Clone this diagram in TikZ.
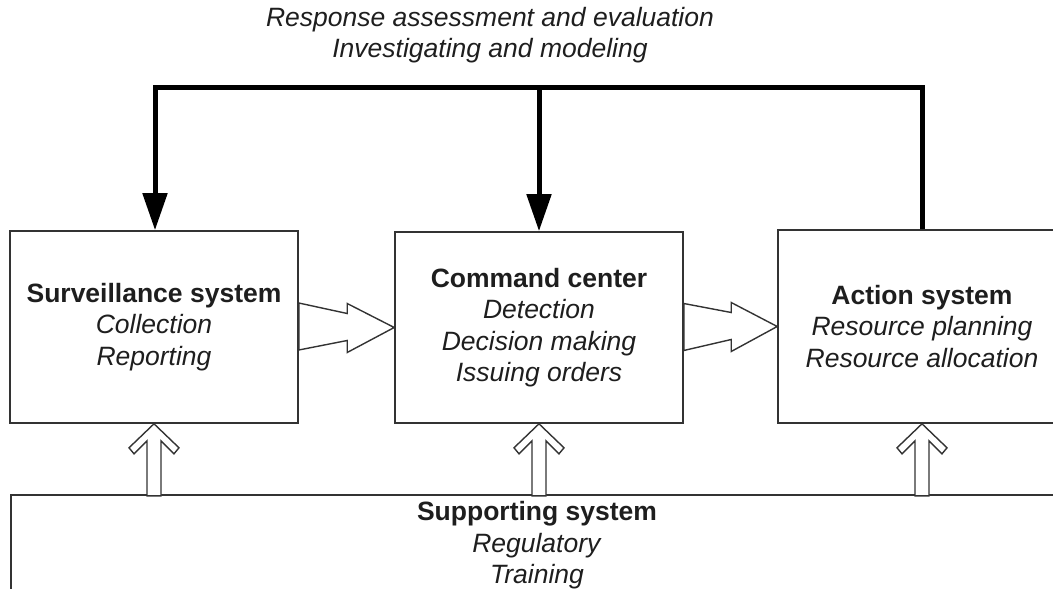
\documentclass[tikz,border=0pt]{standalone}
\usepackage{fontspec}
\setmainfont{Liberation Sans}
\usetikzlibrary{arrows.meta,calc}
\definecolor{boxline}{HTML}{333333}
\definecolor{txt}{HTML}{1E1E1E}
\newcommand\hollowup[1]{\draw[hollow] (#1) -- ++(-25,24) -- ++(5,6) -- ++(13,-13) -- ++(0,55) -- ++(14,0) -- ++(0,-55) -- ++(13,13) -- ++(5,-6) -- cycle;}
\begin{document}
\begin{tikzpicture}[x=1pt,y=-1pt,
  sysbox/.style={draw=boxline,line width=1.6pt,rectangle,inner sep=0pt,align=center,text=txt,font=\fontsize{26.5}{31.5}\selectfont},
  hollow/.style={draw=boxline,line width=1.4pt,fill=white,line join=miter},
  feed/.style={line width=5pt,line join=miter,draw=black},
  feedtip/.style={-{Triangle[width=24pt,length=37pt]}}]
\useasboundingbox (0,0) rectangle (1053,589);
\node[sysbox,minimum width=288pt,minimum height=192pt] (surv) at (154,327) {\textbf{Surveillance system}\\\textit{Collection}\\\textit{Reporting}};
\node[sysbox,minimum width=288pt,minimum height=191pt] (cmd) at (539,327.5) {\textbf{Command center}\\\textit{Detection}\\\textit{Decision making}\\\textit{Issuing orders}};
\node[sysbox,minimum width=288pt,minimum height=193pt] (act) at (922,326.5) {\textbf{Action system}\\\textit{Resource planning}\\\textit{Resource allocation}};
\node[sysbox,minimum width=1052pt,minimum height=101.2pt] (sup) at (537,545.6) {\textbf{Supporting system}\\\textit{Regulatory}\\\textit{Training}};
\node[font=\fontsize{26.5}{31}\selectfont\itshape,align=center,text=txt,inner sep=0pt] (top) at (490,35.6) {Response assessment and evaluation\\Investigating and modeling};
% hollow horizontal arrows
\draw[hollow] (cmd.west) -- ++(-47,-24) -- ++(0,10) -- ($(surv.east)+(0,-24)$) -- ($(surv.east)+(0,23)$) -- ($(cmd.west)+(-47,13)$) -- ++(0,12) -- cycle;
\draw[hollow] (act.west) -- ++(-46,-24) -- ++(0,10) -- ($(cmd.east)+(0,-24)$) -- ($(cmd.east)+(0,23)$) -- ($(act.west)+(-46,13)$) -- ++(0,12) -- cycle;
% hollow vertical arrows
\hollowup{surv.south}
\hollowup{cmd.south}
\hollowup{act.south}
% feedback loop
\coordinate (tl) at (155,87);
\coordinate (tr) at (922,87);
\draw[feed,feedtip] (act.north) -- (tr) -- (tl) -- (tl |- surv.north);
\draw[feed,feedtip] (cmd.north |- tl) -- (cmd.north);
\end{tikzpicture}
\end{document}
